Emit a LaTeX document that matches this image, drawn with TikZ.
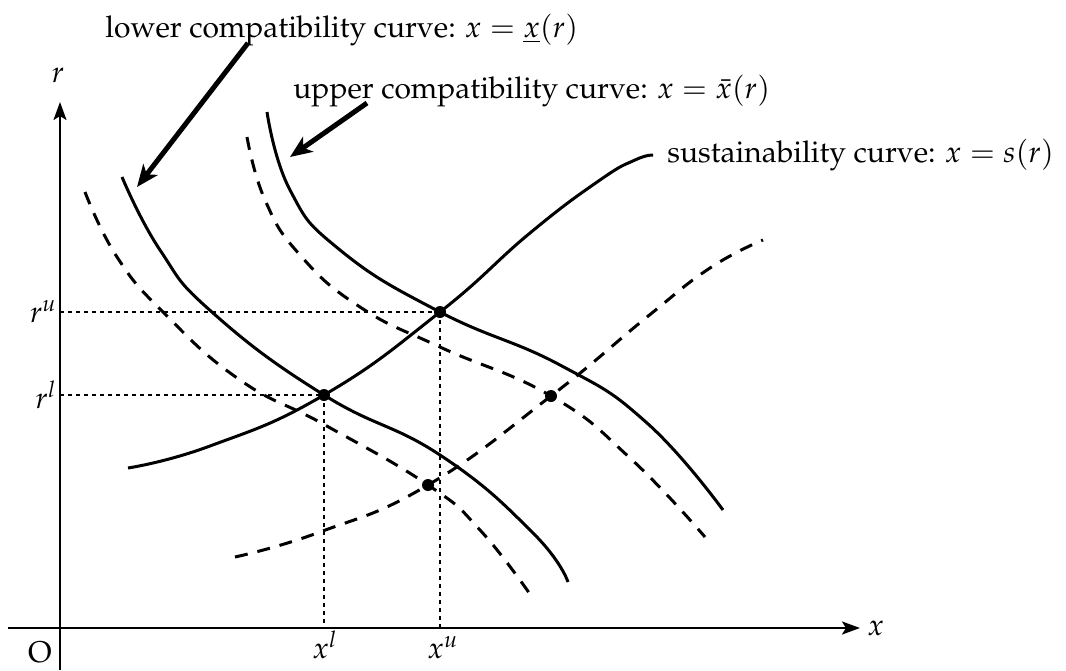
\documentclass[tikz,border=0pt]{standalone}
\usepackage[T1]{fontenc}
\usepackage{mathpazo}
\usepackage{tikz}
\usetikzlibrary{arrows.meta, positioning}

\begin{document}
\begin{tikzpicture}[
    x=0.5pt, y=-0.5pt,
    font=\fontsize{15}{18}\selectfont,
    curve/.style={line width=1.5pt, line join=round},
    dashcurve/.style={line width=1.5pt, dash pattern=on 6.5pt off 5pt},
    guide/.style={line width=1pt, dash pattern=on 2pt off 2pt},
    axis/.style={line width=1.2pt, -{Stealth[length=9pt, width=6.5pt, inset=2pt]}},
    pointer/.style={line width=2.5pt, -{Stealth[length=11pt, width=9pt, inset=3pt]}},
    dot/.style={circle, fill, inner sep=0pt, minimum size=6pt},
    lbl/.style={inner sep=0pt}
]
\useasboundingbox (0,0) rectangle (1066,670);

% Axes
\coordinate (xs) at (8,628);
\coordinate (xe) at (860,628);
\coordinate (ys) at (60,670);
\coordinate (ye) at (60,102);
\draw[axis] (xs) -- (xe);
\draw[axis] (ys) -- (ye);
\node[lbl, right=3.5pt of xe] (xlab) {$x$};
\node[lbl] (rlab) at (58,75) {$r$};
\node[lbl] (olab) at (40,652) {O};

% Equilibrium points
\coordinate (pl) at (324,395);
\coordinate (pu) at (440,312);
\coordinate (ql) at (428,485);
\coordinate (qu) at (551,396);

% Guides to the axes
\coordinate (rl) at (60,395);
\coordinate (ru) at (60,312);
\coordinate (xl) at (324,628);
\coordinate (xu) at (440,628);
\draw[guide] (rl) -- (pl);
\draw[guide] (ru) -- (pu);
\draw[guide] (pl) -- (xl);
\draw[guide] (pu) -- (xu);
\node[lbl, anchor=east] (rllab) at (57,395) {$r^l$};
\node[lbl, anchor=east] (rulab) at (57,312) {$r^u$};
\node[lbl, anchor=base] (xllab) at (325,658) {$x^l$};
\node[lbl, anchor=base] (xulab) at (443,658) {$x^u$};

% Lower compatibility curve
\draw[curve] plot[smooth, tension=0.8] coordinates {(122,177) (160,250) (213,313) (pl) (440,455) (533,533) (568,582)};
\draw[dashcurve] plot[smooth, tension=0.8] coordinates {(85,192) (117,257) (165,314) (240,380) (325,425) (ql)
    (480,530) (532,597)};

% Upper compatibility curve
\draw[curve] plot[smooth, tension=0.8] coordinates {(267,112) (290,190) (340,250) (pu) (560,365) (647,423) (723,510)};
\draw[dashcurve] plot[smooth, tension=0.8] coordinates {(247,137) (265,200) (300,255) (360,307) (440,347) (qu)
    (630,458) (705,537)};

% Sustainability curve
\draw[curve] plot[smooth, tension=0.8] coordinates {(128,468) (210,446) (pl) (pu) (530,233) (600,180) (635,160) (653,155)};
\draw[dashcurve] plot[smooth, tension=0.8] coordinates {(235,557) (320,532) (ql) (qu) (647,317) (710,268) (763,240)};

\node[dot] (pldot) at (pl) {};
\node[dot] (pudot) at (pu) {};
\node[dot] (qldot) at (ql) {};
\node[dot] (qudot) at (qu) {};

% Curve names
\node[lbl, anchor=base west] (lowtxt) at (105,37) {lower compatibility curve: $x = \underline{x}(r)$};
\node[lbl, anchor=base west] (uptxt) at (293,98) {upper compatibility curve: $x = \bar{x}(r)$};
\node[lbl, anchor=base west] (sustxt) at (667,162) {sustainability curve: $x = s(r)$};

\coordinate (lowtail) at (248,43);
\coordinate (lowtip) at (137,187);
\coordinate (uptail) at (367,103);
\coordinate (uptip) at (290,157);
\draw[pointer] (lowtail) -- (lowtip);
\draw[pointer] (uptail) -- (uptip);

\end{tikzpicture}
\end{document}
